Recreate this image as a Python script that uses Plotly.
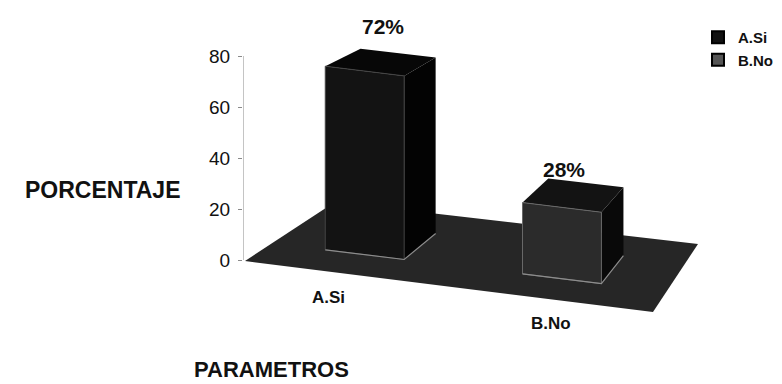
import plotly.graph_objects as go

# ---- data ----
categories = ["A.Si", "B.No"]
porcentaje = [72, 28]
tick_vals = [0, 20, 40, 60, 80]

# ---- 3D-look geometry (screen pixels of the floor corners) ----
FLOOR_FL = (245, 261)   # front-left
FLOOR_FR = (653, 312)   # front-right
FLOOR_BL = (335, 202)   # back-left
FLOOR_BR = (698, 244)   # back-right
ZERO_ROW = 260          # screen row of value 0 on the value axis
PX_PER_UNIT = 2.55      # screen pixels per percentage point
BAR_WIDTH = 0.2         # along the category direction (0..1)
BAR_V0, BAR_V1 = 0.3, 0.72   # bar depth span on the floor (0 front .. 1 back)
DEPTH_SHRINK = 0.1      # heights shrink slightly with depth
LABEL_LIFT = 1.27       # value labels sit above the bars, proportional to height

W, H = 782, 384
M_L, M_R, M_T, M_B = 243, 2, 20, 54
PLOT_W, PLOT_H = W - M_L - M_R, H - M_T - M_B
Y_MAX = (ZERO_ROW - M_T) / PX_PER_UNIT
Y_MIN = Y_MAX - PLOT_H / PX_PER_UNIT

FONT = "Liberation Sans, Arial, sans-serif"


def to_axis_y(py):
    return (ZERO_ROW - py) / PX_PER_UNIT


def paper_x(px):
    return (px - M_L) / PLOT_W


def paper_y(py):
    return (H - M_B - py) / PLOT_H


def project(u, v, h):
    """Map floor position (u, v) and value height h to x/y axis coordinates."""
    fx = FLOOR_FL[0] + (FLOOR_FR[0] - FLOOR_FL[0]) * u
    fy = FLOOR_FL[1] + (FLOOR_FR[1] - FLOOR_FL[1]) * u
    bx = FLOOR_BL[0] + (FLOOR_BR[0] - FLOOR_BL[0]) * u
    by = FLOOR_BL[1] + (FLOOR_BR[1] - FLOOR_BL[1]) * u
    px = fx + (bx - fx) * v
    py = fy + (by - fy) * v
    return px, to_axis_y(py) + h * (1 - DEPTH_SHRINK * (v - BAR_V0))


def face(points, fill, line_color=None, line_width=0):
    xs, ys = zip(*[project(*p) for p in points])
    return go.Scatter(
        x=list(xs) + [xs[0]], y=list(ys) + [ys[0]],
        mode="lines", fill="toself", fillcolor=fill,
        line=dict(color=line_color or fill, width=line_width),
        hoverinfo="skip", showlegend=False,
    )


def edge(points, color, width=1):
    xs, ys = zip(*[project(*p) for p in points])
    return go.Scatter(x=list(xs), y=list(ys), mode="lines",
                      line=dict(color=color, width=width),
                      hoverinfo="skip", showlegend=False)


bar_styles = [
    dict(front="#131313", top="#070707", side="#030303", rim="#444444", swatch="#111111"),
    dict(front="#2b2b2b", top="#131313", side="#090909", rim="#686868", swatch="#555555"),
]

fig = go.Figure()

# floor
fig.add_trace(face([(0, 0, 0), (1, 0, 0), (1, 1, 0), (0, 1, 0)], "#262626"))

n = len(categories)
annotations = []
label_dx = [-12, 6]     # horizontal nudges of the category labels
value_dx = [2, -9]      # horizontal nudges of the percentage labels
for i, (cat, val) in enumerate(zip(categories, porcentaje)):
    st = bar_styles[i]
    uc = (i + 0.5) / n - 0.015
    u0, u1 = uc - BAR_WIDTH / 2, uc + BAR_WIDTH / 2
    v0, v1 = BAR_V0, BAR_V1
    fig.add_trace(face([(u1, v0, 0), (u1, v1, 0), (u1, v1, val), (u1, v0, val)], st["side"]))
    fig.add_trace(face([(u0, v0, val), (u1, v0, val), (u1, v1, val), (u0, v1, val)], st["top"]))
    fig.add_trace(face([(u0, v0, 0), (u1, v0, 0), (u1, v0, val), (u0, v0, val)],
                       st["front"], st["rim"], 1))
    fig.add_trace(edge([(u0, v0, 0), (u1, v0, 0), (u1, v1, 0)], "#8c8c8c", 1.2))

    # percentage label above the bar
    lx, _ = project(uc, 0.5, 0)
    annotations.append(dict(
        x=lx, y=val * LABEL_LIFT, xref="x", yref="y", text=f"{val}%",
        showarrow=False, xanchor="center", yanchor="middle", xshift=value_dx[i],
        font=dict(family=FONT, size=21, color="#111", weight="bold"),
    ))
    # category label in front of the floor
    cx, cy = project(uc, 0, 0)
    annotations.append(dict(
        x=cx, y=cy, xref="x", yref="y", text=cat, showarrow=False,
        xanchor="center", yanchor="middle", xshift=label_dx[i], yshift=-25,
        font=dict(family=FONT, size=17, color="#111", weight="bold"),
    ))
    # legend entry
    fig.add_trace(go.Scatter(
        x=[None], y=[None], mode="markers", name=cat,
        marker=dict(symbol="square", size=9, color=st["swatch"],
                    line=dict(color="#000", width=1)),
    ))

# axis titles
annotations.append(dict(
    x=paper_x(103), y=paper_y(190), xref="paper", yref="paper", text="PORCENTAJE",
    showarrow=False, xanchor="center", yanchor="middle",
    font=dict(family=FONT, size=23, color="#111", weight="bold"),
))
annotations.append(dict(
    x=paper_x(271), y=paper_y(370), xref="paper", yref="paper", text="PARAMETROS",
    showarrow=False, xanchor="center", yanchor="middle",
    font=dict(family=FONT, size=22, color="#111", weight="bold"),
))

# value axis line, spanning only the tick range
fig.add_shape(type="line", xref="x", yref="y", x0=M_L, x1=M_L,
              y0=tick_vals[0], y1=tick_vals[-1], line=dict(color="#8a8a8a", width=1))

fig.update_layout(
    width=W, height=H,
    margin=dict(l=M_L, r=M_R, t=M_T, b=M_B, autoexpand=False),
    paper_bgcolor="white", plot_bgcolor="white",
    xaxis=dict(range=[M_L, W - M_R], visible=False, fixedrange=True),
    yaxis=dict(range=[Y_MIN, Y_MAX], tickvals=tick_vals, ticks="outside", ticklen=4,
               tickcolor="#8a8a8a", showgrid=False, zeroline=False, showline=False,
               ticklabelstandoff=4,
               tickfont=dict(family=FONT, size=19, color="#111"), fixedrange=True),
    showlegend=True,
    legend=dict(x=paper_x(698), y=paper_y(21),
                xanchor="left", yanchor="top", bgcolor="rgba(0,0,0,0)",
                font=dict(family=FONT, size=15, color="#111", weight="bold"),
                tracegroupgap=0, itemsizing="constant"),
    annotations=annotations,
)

fig.write_html("out.html")
